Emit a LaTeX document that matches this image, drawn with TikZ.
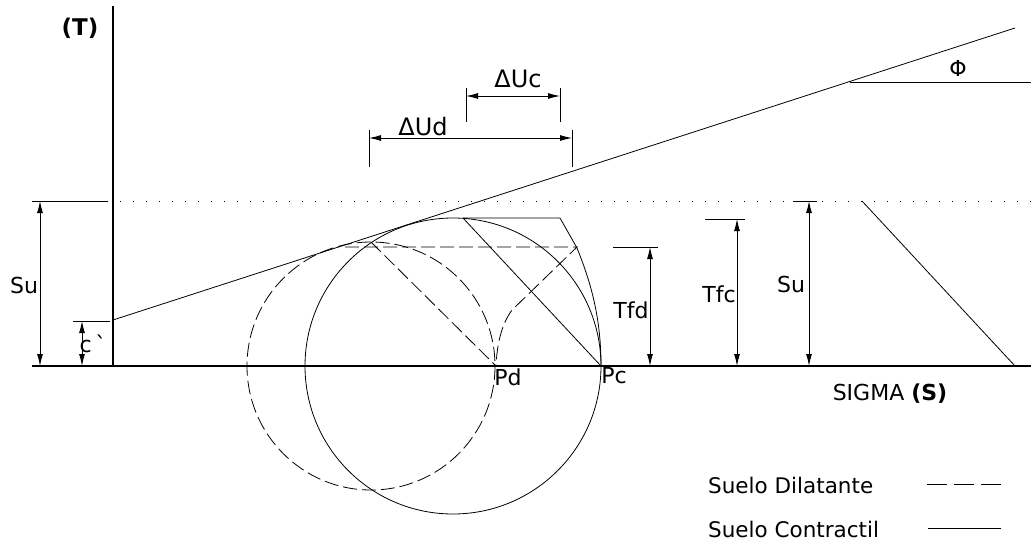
\documentclass[tikz,border=0pt]{standalone}
\usepackage{fontspec}
\setmainfont{DejaVu Sans}
\usetikzlibrary{arrows.meta,positioning,calc}

\tikzset{
  thin line/.style={line width=0.8pt},
  dash line/.style={line width=0.8pt, dash pattern=on 14pt off 5pt},
  dim line/.style={{Latex[length=12pt,width=6pt]}-{Latex[length=12pt,width=6pt]}, line width=0.9pt},
  lbl/.style={font=\fontsize{22}{24}\selectfont, inner sep=0pt, anchor=base},
  leg/.style={font=\fontsize{21.5}{24}\selectfont, inner sep=0pt, anchor=base west},
}

\begin{document}
\begin{tikzpicture}[x=1pt, y=-1pt]
\useasboundingbox (0,0) rectangle (1033,541);

% axes
\coordinate (O) at (113,366);
\coordinate (Ttop) at (113,6);
\coordinate (Sleft) at (32,366);
\coordinate (Sright) at (1031,366);
\draw[line width=1.1pt] (Ttop) -- (O);
\draw[line width=1.1pt] (Sleft) -- (Sright);
\node[lbl, font=\fontsize{23}{25}\selectfont\bfseries] (tau) at (80,35) {(T)};
\node[lbl] (sigma) at (890,400) {SIGMA \textbf{(S)}};

% envelope and angle
\coordinate (C) at (113,320);
\coordinate (E) at (1015,28);
\coordinate (F) at (850,82);
\coordinate (Fend) at (1031,82);
\draw[thin line] (C) -- (E);
\draw[thin line] (F) -- (Fend);
\node[lbl] (phi) at (958,76) {Φ};

% Su level
\draw[line width=0.8pt, dash pattern=on 1pt off 12pt] (120,201) -- (1031,201);
\coordinate (Rtop) at (862,201);
\coordinate (Rbot) at (1015,366);
\draw[thin line] (Rtop) -- (Rbot);

% circles
\coordinate (Cd) at (371,366);
\coordinate (Cc) at (453,366);
\coordinate (Pd) at (496,366);
\coordinate (Pc) at (601,366);
\draw[dash line] (Cd) circle[radius=124];
\draw[thin line] (Cc) circle[radius=148];

% stress paths
\coordinate (Dtop) at (371,242);
\coordinate (Dl) at (345,247);
\coordinate (Dr) at (577,247);
\draw[dash line] (Dtop) -- (Pd);
\draw[dash line] (Dl) -- (Dr) -- (512,310) .. controls (501,325) and (497,345) .. (Pd);
\coordinate (Ctop) at (463,218);
\coordinate (Cr) at (560,218);
\draw[thin line] (Ctop) -- (Pc);
\draw[thin line] (Ctop) -- (Cr) -- (577,248) .. controls (592,285) and (601,320) .. (Pc);
\node[lbl] (pd) at (508,385) {Pd};
\node[lbl] (pc) at (614,383) {Pc};

% left dimensions
\draw[thin line] (32,201) -- (108,201);
\draw[dim line] (40,201) -- (40,366);
\node[lbl] (suL) at (24,293) {Su};
\draw[thin line] (73,321) -- (110,321);
\draw[dim line] (82,321) -- (82,366);
\node[lbl] (coh) at (93,352) {c\,\textasciigrave};

% top dimensions
\draw[thin line] (466,88) -- (466,122);
\draw[thin line] (560,88) -- (560,122);
\draw[dim line] (466,96) -- (560,96);
\node[lbl, font=\fontsize{24}{26}\selectfont] (duc) at (518,87) {ΔUc};
\draw[thin line] (369,130) -- (369,167);
\draw[thin line] (572,130) -- (572,167);
\draw[dim line] (369,138) -- (572,138);
\node[lbl, font=\fontsize{24}{26}\selectfont] (dud) at (423,135) {ΔUd};

% right dimensions
\draw[thin line] (613,247) -- (658,247);
\draw[dim line] (650,247) -- (650,366);
\node[lbl] (tfd) at (631,318) {Tfd};
\draw[thin line] (705,219) -- (745,219);
\draw[dim line] (737,219) -- (737,366);
\node[lbl] (tfc) at (719,302) {Tfc};
\draw[thin line] (793,201) -- (817,201);
\draw[dim line] (809,201) -- (809,366);
\node[lbl] (suR) at (791,292) {Su};

% legend
\node[leg] (legD) at (708,493) {Suelo Dilatante};
\node[leg] (legC) at (708,537) {Suelo Contractil};
\draw[line width=0.8pt, dash pattern=on 20pt off 7pt] (927,484) -- (1002,484);
\draw[line width=0.8pt] (928,528) -- (1001,528);
\end{tikzpicture}
\end{document}
